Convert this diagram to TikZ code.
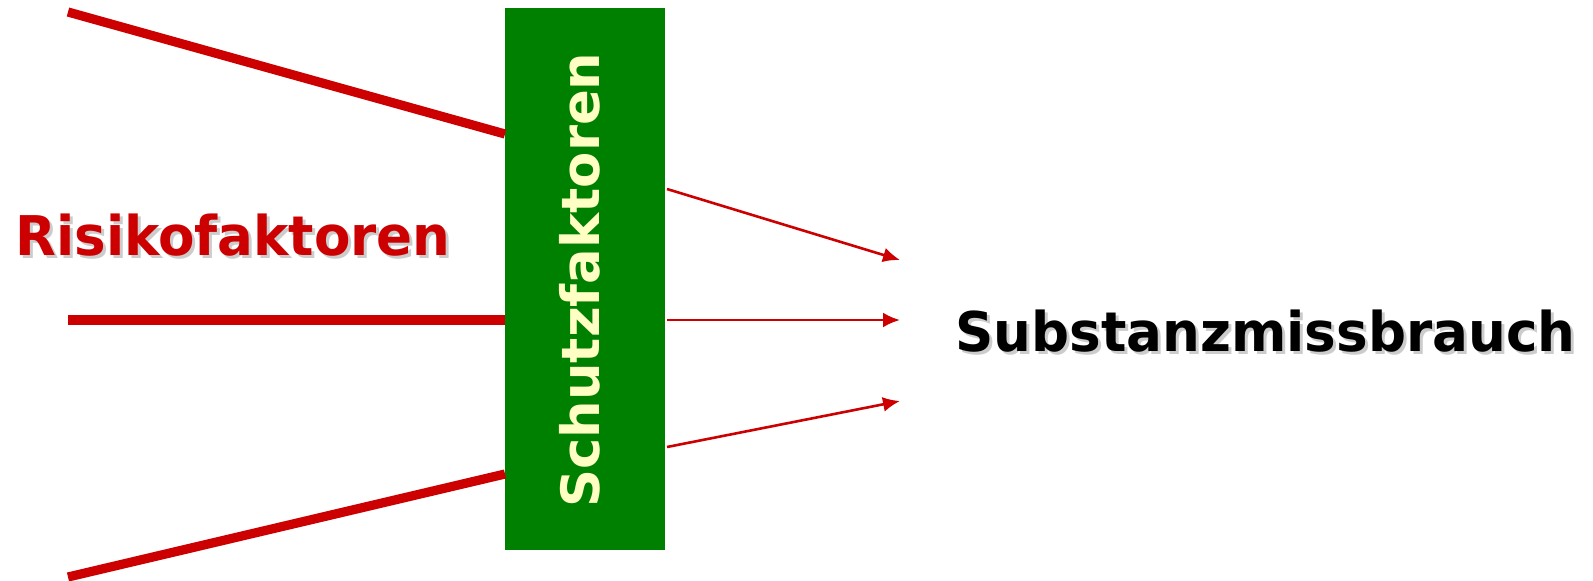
\documentclass[tikz,border=0pt]{standalone}
\usepackage{fontspec}
\setmainfont{DejaVu Sans}
\usetikzlibrary{arrows.meta}
\definecolor{rred}{HTML}{CC0000}
\definecolor{sgreen}{HTML}{008000}
\definecolor{lyellow}{HTML}{FFFFC4}
\tikzset{
  thickline/.style={draw=rred, line width=4.6pt},
  thinarrow/.style={draw=rred, line width=1.3pt, -{Latex[length=8.5pt,width=7.5pt]}},
  shadowtext/.style={text=black!25, opacity=0.8, inner sep=0pt},
  lbl/.style={inner sep=0pt, font=\bfseries}
}
\begin{document}
\begin{tikzpicture}[x=0.5pt,y=-0.5pt]
\useasboundingbox (0,0) rectangle (1593,580);
% box
\node[fill=sgreen, minimum width=80pt, minimum height=271pt, inner sep=0pt, anchor=north west] (box) at (505,8) {};
% thick risk lines
\coordinate (r1) at (68,12);
\coordinate (r2) at (68,320);
\coordinate (r3) at (68,577);
\coordinate (b1) at (505,134);
\coordinate (b2) at (505,320);
\coordinate (b3) at (505,474);
\draw[thickline] (r1) -- (b1);
\draw[thickline] (r2) -- (b2);
\draw[thickline] (r3) -- (b3);
% arrows
\coordinate (s1) at (667,189);
\coordinate (s2) at (667,320);
\coordinate (s3) at (667,447);
\coordinate (t1) at (900,260);
\coordinate (t2) at (900,320);
\coordinate (t3) at (900,401);
\draw[thinarrow] (s1) -- (t1);
\draw[thinarrow] (s2) -- (t2);
\draw[thinarrow] (s3) -- (t3);
% texts
\node[lbl, shadowtext, anchor=base west] (risks) at (18,258) {\resizebox{217.5pt}{20.8pt}{\bfseries Risikofaktoren}};
\node[lbl, text=rred, anchor=base west] (risk) at (15,255) {\resizebox{217.5pt}{20.8pt}{\bfseries Risikofaktoren}};
\node[lbl, shadowtext, anchor=base west] (subss) at (958,354) {\resizebox{310pt}{20.8pt}{\bfseries Substanzmissbrauch}};
\node[lbl, text=black, anchor=base west] (subs) at (955,351) {\resizebox{310pt}{20.8pt}{\bfseries Substanzmissbrauch}};
\node[lbl, text=lyellow, rotate=90, anchor=base west] (schutz) at (599,508) {\resizebox{227.5pt}{!}{\bfseries Schutzfaktoren}};
\end{tikzpicture}
\end{document}
